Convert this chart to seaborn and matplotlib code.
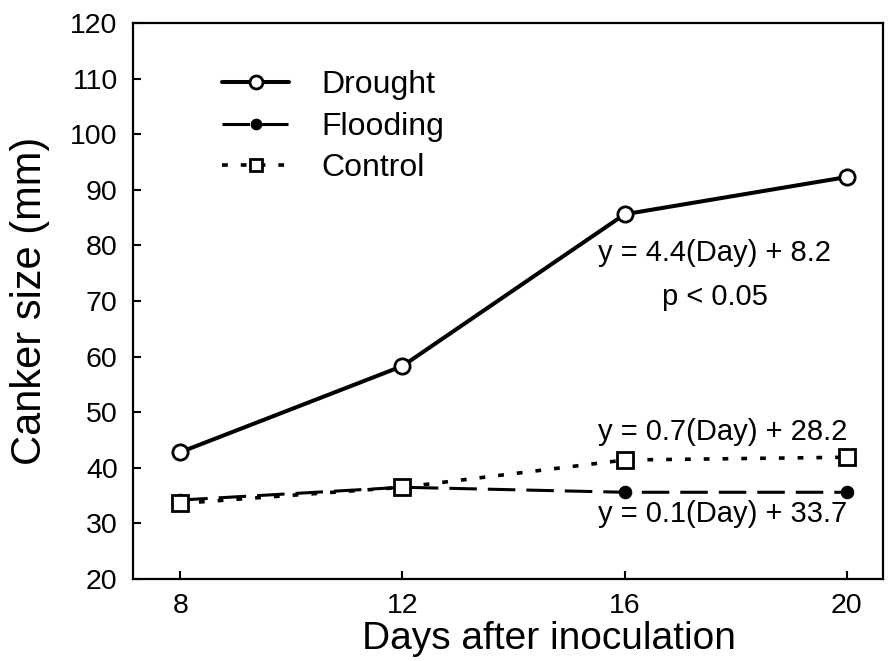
import numpy as np
import pandas as pd
import matplotlib
matplotlib.use("Agg")
import matplotlib.pyplot as plt
from matplotlib.legend_handler import HandlerLine2D
import seaborn as sns

days = [8, 12, 16, 20]
drought = [42.8, 58.3, 85.6, 92.3]
flooding = [34.2, 36.5, 35.6, 35.6]
control = [33.6, 36.5, 41.4, 41.9]
x_ticks = [8, 12, 16, 20]
y_ticks = [20, 30, 40, 50, 60, 70, 80, 90, 100, 110, 120]

sns.set_theme(style="white")
plt.rcParams["font.family"] = ["Liberation Sans", "DejaVu Sans"]

fig = plt.figure(figsize=(8.89, 6.61), dpi=100)
ax = fig.add_axes([133/889, 1-579/661, (883-133)/889, (579-23)/661])

df_f = pd.DataFrame({"Day": days, "Size": flooding})
df_c = pd.DataFrame({"Day": days, "Size": control})
df_d = pd.DataFrame({"Day": days, "Size": drought})

sns.lineplot(data=df_f, x="Day", y="Size", ax=ax, color="black", lw=2.2,
             linestyle=(0, (9, 3.6)), marker="o", ms=9, mfc="black", mec="black",
             label="Flooding", errorbar=None, zorder=3)
sns.lineplot(data=df_c, x="Day", y="Size", ax=ax, color="black", lw=2.6,
             linestyle=(0, (1.6, 3.6)), marker="s", ms=11, mfc="white", mec="black",
             mew=2.0, label="Control", errorbar=None, zorder=4)
sns.lineplot(data=df_d, x="Day", y="Size", ax=ax, color="black", lw=2.9,
             linestyle="-", marker="o", ms=11, mfc="white", mec="black",
             mew=2.0, label="Drought", errorbar=None, zorder=5)

ax.set_xlim(7.15, 20.65)
ax.set_ylim(20, 120)
ax.set_xticks(x_ticks)
ax.set_yticks(y_ticks)
ax.tick_params(axis="both", direction="in", length=6, width=1.5, labelsize=20.5,
               colors="black", left=True, bottom=True, top=False, right=False)
ax.tick_params(axis="y", pad=11)
ax.tick_params(axis="x", pad=10)
for s in ax.spines.values():
    s.set_color("black")
    s.set_linewidth(1.6)

ax.set_xlabel("Days after inoculation", fontsize=28, color="black")
ax.set_ylabel("Canker size (mm)", fontsize=30, color="black")
ax.xaxis.set_label_coords(0.555, -0.076)
ax.yaxis.set_label_coords(-0.11, 0.5)

ax.text(17.62, 78.7, "y = 4.4(Day) + 8.2", fontsize=21, ha="center", va="center", color="black")
ax.text(17.62, 70.7, "p < 0.05", fontsize=21, ha="center", va="center", color="black")
ax.text(20.0, 46.4, "y = 0.7(Day) + 28.2", fontsize=21, ha="right", va="center", color="black")
ax.text(20.0, 31.7, "y = 0.1(Day) + 33.7", fontsize=21, ha="right", va="center", color="black")


class EndMarker(HandlerLine2D):
    def get_xdata(self, legend, xdescent, ydescent, width, height, fontsize):
        xdata, _ = super().get_xdata(legend, xdescent, ydescent, width, height, fontsize)
        return xdata, np.array([xdata[-1]])


handles, labels = ax.get_legend_handles_labels()
order = [labels.index(n) for n in ["Drought", "Flooding", "Control"]]
h = [handles[i] for i in order]
l = [labels[i] for i in order]
leg = ax.legend(h, l, loc="upper left", bbox_to_anchor=(0.119, 0.915), frameon=False,
                fontsize=23, handlelength=2.1, handletextpad=1.0, labelspacing=0.36,
                borderpad=0, borderaxespad=0, markerscale=0.85,
                handler_map={hh: EndMarker(numpoints=1) for hh in h})
for t in leg.get_texts():
    t.set_color("black")

fig.savefig("out.png", dpi=100)
